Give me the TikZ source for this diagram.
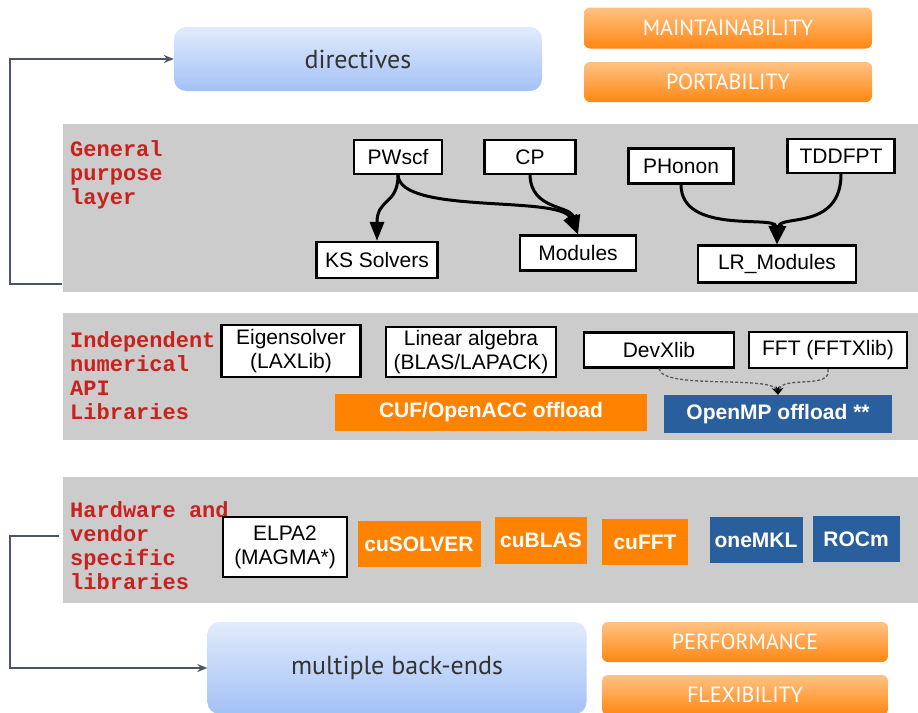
\documentclass[tikz,border=0pt]{standalone}
\usepackage{fontspec}
\setmainfont{Liberation Sans}
\newfontfamily\ptfont{PT Sans}
\newfontfamily\monofont{Liberation Mono}
\usetikzlibrary{arrows.meta}

\definecolor{laygray}{HTML}{CCCCCC}
\definecolor{labred}{HTML}{C9211E}
\definecolor{accorange}{HTML}{FF8300}
\definecolor{accblue}{HTML}{2A5F9E}
\definecolor{pilltop}{HTML}{FFC284}
\definecolor{pillbot}{HTML}{FF8712}
\definecolor{softtop}{HTML}{E1EBFC}
\definecolor{softbot}{HTML}{A3C1F6}
\definecolor{darktext}{HTML}{333333}
\definecolor{connblue}{HTML}{4A5566}

\tikzset{sz/.style 2 args={minimum width=#1pt, minimum height=#2pt}}

\begin{document}
\begin{tikzpicture}[%
	x=1pt, y=-1pt,
	box/.style={draw, line width=2.2pt, fill=white, inner sep=0pt, align=center, font=\fontsize{21}{24}\selectfont},
	orng/.style={fill=accorange, text=white, inner sep=0pt, font=\fontsize{21}{24}\selectfont\bfseries},
	blu/.style={orng, fill=accblue},
	lay/.style={fill=laygray},
	lbl/.style={anchor=west, inner sep=0pt, align=left, text=labred, font=\monofont\bfseries\fontsize{22}{24}\selectfont},
	pill/.style={rounded corners=6pt, top color=pilltop, bottom color=pillbot, text=white, font=\ptfont\fontsize{22}{24}\selectfont},
	soft/.style={rounded corners=12pt, top color=softtop, bottom color=softbot, text=darktext, font=\ptfont\fontsize{26}{30}\selectfont},
	dick/.style={draw, line width=3pt, -{Triangle[length=19pt,width=14pt]}},
	duenn/.style={draw, gray!70!black, line width=1.3pt, densely dashed, -{Stealth[length=8pt,width=8pt,color=black]}},
	conn/.style={draw, connblue, line width=1.5pt, -{Stealth[length=10pt,width=8pt]}}
]
\useasboundingbox (0,0) rectangle (918,712);
\clip (0,0) rectangle (918,712);

% layers
\fill[lay] (63,124) rectangle (918,292);
\fill[lay] (63,313) rectangle (918,440);
\fill[lay] (63,477) rectangle (918,603);

\node[lbl] (l1) at (70,175) {General\\purpose\\layer};
\node[lbl] (l2) at (70,376) {Independent\\numerical\\API\\Libraries};
\node[lbl] (l3) at (70,546) {Hardware and\\vendor\\specific\\libraries};

% top and bottom
\node[soft,sz={368}{64}] (dir)  at (358,59)  {directives};
\node[soft,sz={379}{92}] (back) at (397,668) {multiple back-ends};

\node[pill,sz={288}{41}] (maint) at (728,28)  {MAINTAINABILITY};
\node[pill,sz={288}{40}] (port)  at (728,82)  {PORTABILITY};
\node[pill,sz={286}{40}] (perf)  at (745,642) {PERFORMANCE};
\node[pill,sz={286}{40}] (flex)  at (745,695) {FLEXIBILITY};

% general purpose layer
\node[box,sz={88}{34}]  (pw)  at (398,157) {PWscf};
\node[box,sz={91}{34}]  (cp)  at (530,157) {CP};
\node[box,sz={105}{35}] (ph)  at (681,166) {PHonon};
\node[box,sz={107}{34}] (td)  at (841,156) {TDDFPT};
\node[box,sz={121}{36}] (ks)  at (377,260) {KS Solvers};
\node[box,sz={116}{35}] (mod) at (578,253) {Modules};
\node[box,sz={158}{37}] (lr)  at (777,264) {LR\_Modules};

\path[dick] (pw.south) .. controls (398,205) and (377,198) .. (ks.north);
\path[dick] (pw.south) .. controls (400,215) and (560,195) .. (mod.north);
\path[dick] (cp.south) .. controls (531,210) and (570,205) .. (mod.north);
\path[dick] (ph.south) .. controls (681,235) and (775,215) .. (lr.north);
\path[dick] (td.south) .. controls (841,230) and (780,215) .. (lr.north);

% numerical libraries
\node[box,sz={139}{52}] (eig) at (291,351) {Eigensolver\\(LAXLib)};
\node[box,sz={170}{50}] (lin) at (471,352) {Linear algebra\\(BLAS/LAPACK)};
\node[box,sz={150}{35}] (dev) at (659,350) {DevXlib};
\node[box,sz={158}{36}] (fft) at (828,350) {FFT (FFTXlib)};
\node[orng,sz={312}{37}] (cuf) at (491,412) {CUF/OpenACC offload};
\node[blu,sz={228}{38}]  (omp) at (778,414) {OpenMP offload **};

\path[duenn] (dev.south) .. controls (662,390) and (772,375) .. (omp.north);
\path[duenn] (fft.south) .. controls (832,390) and (782,375) .. (omp.north);

% vendor libraries
\node[box,line width=2.6pt,sz={124}{60}] (elpa) at (285,547) {ELPA2\\(MAGMA*)};
\node[orng,sz={123}{46}] (cus)  at (419,544) {cuSOLVER};
\node[orng,sz={92}{47}]  (cub)  at (541,540) {cuBLAS};
\node[orng,sz={86}{46}]  (cuff) at (645,542) {cuFFT};
\node[blu,sz={93}{46}]   (mkl)  at (756,540) {oneMKL};
\node[blu,sz={87}{46}]   (roc)  at (856,539) {ROCm};

% connectors
\coordinate (c1) at (62,284);
\coordinate (c2) at (59,536);
\path[conn] (c1) -- ++(-52,0) |- (dir.west);
\path[conn] (c2) -- ++(-49,0) |- (back.west);

\end{tikzpicture}
\end{document}
